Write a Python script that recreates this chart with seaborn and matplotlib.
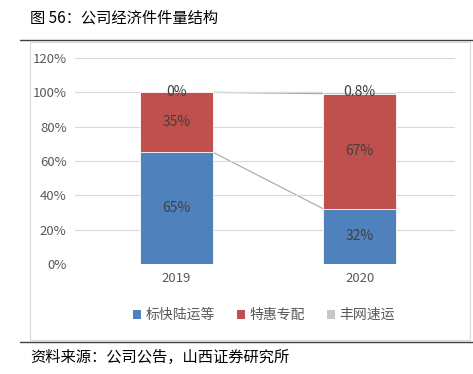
import numpy as np
import pandas as pd
import seaborn as sns
import matplotlib.pyplot as plt
from matplotlib.patches import Patch, Rectangle
from matplotlib.lines import Line2D

# 数据
years = ['2019', '2020']
series = ['标快陆运等', '特惠专配', '丰网速运']
blue = [65, 32.2]
red = [35, 67.0]
grey = [0.0, 0.8]
labels_blue = ['65%', '32%']
labels_red = ['35%', '67%']
labels_grey = ['0%', '0.8%']
colors = ['#4F81BD', '#C0504D', '#C8C8C8']

sns.set_theme(style='white')
plt.rcParams['font.family'] = ['Noto Sans CJK SC', 'DejaVu Sans']

df = pd.DataFrame({'year': years, 'blue': blue, 'red': red, 'grey': grey})
df['c1'] = df['blue']
df['c2'] = df['blue'] + df['red']
df['c3'] = df['c2'] + df['grey']

fig = plt.figure(figsize=(4.73, 3.74), dpi=100)
ax = fig.add_axes([75 / 473, 1 - 264 / 374, 380 / 473, 206 / 374])

# 堆叠柱：先画累计总和，再覆盖
for col, c in zip(['c3', 'c2', 'c1'], colors[::-1]):
    sns.barplot(data=df, x='year', y=col, color=c, width=0.4, ax=ax,
                edgecolor='white', linewidth=0.6, saturation=1)

# 系列线
hw = 0.2
for col in ['c1', 'c2', 'c3']:
    ax.plot([0 + hw, 1 - hw], [df[col][0], df[col][1]], color='#A6A6A6', lw=0.8, zorder=0.5)

# 数据标签
lab = dict(ha='center', va='center', fontsize=10, color='#404040')
for i in range(2):
    ax.text(i, df['blue'][i] / 2, labels_blue[i], **lab)
    ax.text(i, df['blue'][i] + df['red'][i] / 2, labels_red[i], **lab)
    ax.text(i, df['c3'][i], labels_grey[i], **lab)

ax.set_ylim(0, 120)
ax.set_xlim(-0.555, 1.52)
ax.set_yticks(range(0, 121, 20))
ax.set_yticklabels([f'{v}%' for v in range(0, 121, 20)], fontsize=9.5, color='#595959')
ax.tick_params(axis='x', labelsize=9.5, labelcolor='#595959', length=0, pad=6)
ax.tick_params(axis='y', length=0, pad=6)
ax.set_xlabel('')
ax.set_ylabel('')
ax.yaxis.grid(True, color='#D9D9D9', lw=0.8)
ax.set_axisbelow(True)
for s in ax.spines.values():
    s.set_visible(False)

# 图例
handles = [Patch(facecolor=c, edgecolor='none') for c in colors]
fig.legend(handles, series, loc='center', bbox_to_anchor=(264 / 473, 1 - 315 / 374), ncol=3,
           frameon=False, fontsize=10, handlelength=0.6, handleheight=0.6, handletextpad=0.3,
           columnspacing=1.6, labelcolor='#595959')

# 图框与标题
fig.add_artist(Rectangle((30 / 473, 1 - 340 / 374), 440 / 473, 298 / 374, transform=fig.transFigure,
                         fill=False, edgecolor='#D9D9D9', lw=0.8))
fig.add_artist(Line2D([20 / 473, 1], [1 - 40 / 374] * 2, color='#404040', lw=1))
fig.add_artist(Line2D([20 / 473, 1], [1 - 342 / 374] * 2, color='#404040', lw=1))
fig.text(30 / 473, 1 - 18 / 374, '图 56：公司经济件件量结构', fontsize=11, va='center', ha='left', color='black')
fig.text(30 / 473, 1 - 357 / 374, '资料来源：公司公告，山西证券研究所', fontsize=11, va='center', ha='left', color='black')

fig.savefig('out.png', dpi=100)
